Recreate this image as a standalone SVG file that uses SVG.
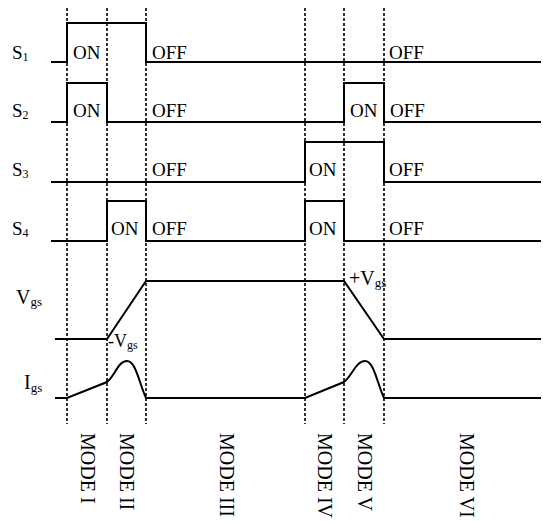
<svg xmlns="http://www.w3.org/2000/svg" width="543" height="522" viewBox="0 0 543 522">
<style>
text{font-family:"Liberation Serif","Times New Roman",serif;fill:#000}
.lb{font-size:19px}
.sub{font-size:12px}
.st{font-size:19px}
.md{font-size:20px}
.sig{fill:none;stroke:#000;stroke-width:2;stroke-linejoin:miter}
.dash{fill:none;stroke:#000;stroke-width:1.6;stroke-dasharray:3 2}
</style>
<rect width="543" height="522" fill="#fff"/>
<g id="mode-dividers">
<line class="dash" x1="67" y1="8" x2="67" y2="424"/>
<line class="dash" x1="107" y1="8" x2="107" y2="424"/>
<line class="dash" x1="146" y1="8" x2="146" y2="424"/>
<line class="dash" x1="305" y1="8" x2="305" y2="424"/>
<line class="dash" x1="344" y1="8" x2="344" y2="424"/>
<line class="dash" x1="384" y1="8" x2="384" y2="424"/>
</g>
<g id="S1">
<text class="lb" x="12" y="59">S<tspan class="sub" dy="1.5">1</tspan></text>
<path class="sig" d="M51,62 H67 V23 H146 V62 H541"/>
<text class="st" x="73" y="59">ON</text>
<text class="st" x="152" y="59">OFF</text>
<text class="st" x="389" y="59">OFF</text>
</g>
<g id="S2">
<text class="lb" x="12" y="117">S<tspan class="sub" dy="1.5">2</tspan></text>
<path class="sig" d="M51,122 H67 V83 H107 V122 H344 V83 H384 V122 H541"/>
<text class="st" x="73" y="117">ON</text>
<text class="st" x="152" y="117">OFF</text>
<text class="st" x="350" y="117">ON</text>
<text class="st" x="390" y="117">OFF</text>
</g>
<g id="S3">
<text class="lb" x="12" y="176">S<tspan class="sub" dy="1.5">3</tspan></text>
<path class="sig" d="M51,182 H305 V142 H384 V182 H541"/>
<text class="st" x="152" y="176">OFF</text>
<text class="st" x="309" y="176">ON</text>
<text class="st" x="389" y="176">OFF</text>
</g>
<g id="S4">
<text class="lb" x="12" y="235">S<tspan class="sub" dy="1.5">4</tspan></text>
<path class="sig" d="M51,241 H107 V201 H146 V241 H305 V201 H344 V241 H541"/>
<text class="st" x="111" y="235">ON</text>
<text class="st" x="152" y="235">OFF</text>
<text class="st" x="309" y="235">ON</text>
<text class="st" x="389" y="235">OFF</text>
</g>
<g id="Vgs">
<text class="md" x="16" y="304">V<tspan style="font-size:13px" dy="2">gs</tspan></text>
<path class="sig" d="M55,339 H107 L146,281 H344 L384,339 H541"/>
<text style="font-size:18px" x="108" y="347">-V<tspan style="font-size:12px" dy="2">gs</tspan></text>
<text class="md" x="349" y="285">+V<tspan style="font-size:13px" dy="2">gs</tspan></text>
</g>
<g id="Igs">
<text class="md" x="24" y="389">I<tspan style="font-size:13px" dy="3">gs</tspan></text>
<path class="sig" d="M55,398 H67 L107,382 C115,376 118,361 127,361 C136,361 139,383 146,398 H305 L344,382 C352,376 356,361 365,361 C374,361 377,383 384,398 H541"/>
</g>
<g id="modes">
<text class="md" transform="translate(81,433) rotate(90)">MODE I</text>
<text class="md" transform="translate(120,433) rotate(90)">MODE II</text>
<text class="md" transform="translate(220,433) rotate(90)">MODE III</text>
<text class="md" transform="translate(318,433) rotate(90)">MODE IV</text>
<text class="md" transform="translate(358,433) rotate(90)">MODE V</text>
<text class="md" transform="translate(460,433) rotate(90)">MODE VI</text>
</g>
</svg>
